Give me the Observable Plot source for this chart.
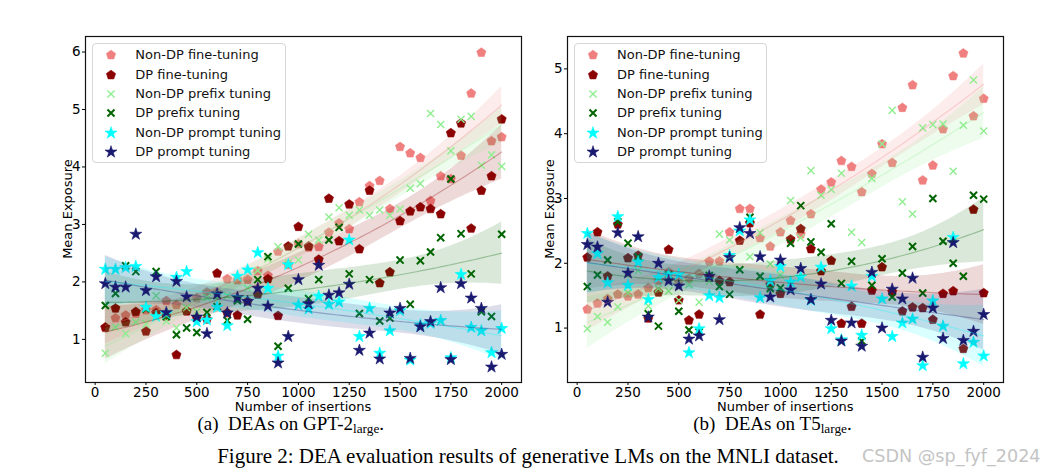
<!DOCTYPE html>
<html><head><meta charset="utf-8">
<script src="https://cdn.jsdelivr.net/npm/d3@7"></script>
<script src="https://cdn.jsdelivr.net/npm/@observablehq/plot@0.6"></script>
<style>
body{margin:0;background:#fff;}
#fig{position:relative;width:1045px;height:475px;overflow:hidden;font-family:"DejaVu Sans",sans-serif;color:#000;}
.panel{position:absolute;top:0;}
.lbl{position:absolute;white-space:nowrap;font-size:13px;line-height:1;transform:translate(-50%,-50%);}
.lbl.rot{transform:translate(-50%,-50%) rotate(-90deg);}
.legend{position:absolute;box-sizing:border-box;width:193.4px;height:120px;border:1px solid #d6d6d6;border-radius:4px;background:rgba(255,255,255,0.85);}
.row{position:absolute;left:0;height:0;width:100%;}
.row svg{position:absolute;left:7.7px;top:-10px;}
.row span{position:absolute;left:42px;top:-8px;font-size:13px;line-height:16px;white-space:nowrap;color:#111;}
.cap{position:absolute;white-space:nowrap;font-family:"Liberation Serif","Times New Roman",serif;font-size:19px;line-height:1;transform:translate(-50%,-50%);color:#000;}
.cap sub{font-size:13.3px;vertical-align:-3px;line-height:0;}
.cap.main{font-size:21px;}
.wm{position:absolute;white-space:nowrap;font-family:"DejaVu Sans",sans-serif;font-size:17.6px;color:#c4c4c4;transform:translate(0,-50%);}
</style></head>
<body><div id="fig"></div>
<script>
// ---------------- data ----------------
const insertions = [50,100,150,200,250,300,350,400,450,500,550,600,650,700,750,800,850,900,950,1000,
  1050,1100,1150,1200,1250,1300,1350,1400,1450,1500,1550,1600,1650,1700,1750,1800,1850,1900,1950,2000];

const seriesNames = ["Non-DP fine-tuning","DP fine-tuning","Non-DP prefix tuning","DP prefix tuning","Non-DP prompt tuning","DP prompt tuning"];
const seriesColors = ["#f08080","#8b0000","#90ee90","#006400","#00ffff","#191970"];
const seriesSymbols = ["pentagon","pentagon","times","times","star","star"];

const xTicks = [0,250,500,750,1000,1250,1500,1750,2000];
const yTicksGPT = [1,2,3,4,5,6];
const yTicksT5 = [1,2,3,4,5];

// GPT-2 large
const gptNonDPFine = [1.20,1.37,1.42,1.45,1.51,1.51,1.67,1.60,1.50,1.72,1.82,1.82,2.05,2.03,2.04,2.19,2.11,2.53,2.30,2.66,
  2.60,2.61,2.86,3.02,2.92,3.39,3.67,3.76,3.27,4.35,4.24,4.16,3.41,3.84,3.79,4.20,5.28,5.99,4.45,4.52];
const gptDPFine = [1.21,1.54,1.30,1.48,1.14,1.46,1.40,0.73,1.49,1.38,1.35,2.15,1.46,1.42,1.66,1.78,2.05,1.41,2.62,2.96,
  2.62,2.39,3.45,2.71,3.35,2.57,3.59,1.98,2.17,3.06,3.23,3.30,3.27,3.18,4.59,4.76,2.93,3.59,3.84,4.83];
const gptNonDPPrefix = [0.76,1.21,1.10,1.30,1.27,1.76,1.32,1.20,1.55,1.48,1.73,1.71,1.76,1.69,1.89,2.20,2.40,2.61,2.33,2.38,
  2.83,2.73,3.13,3.29,3.16,3.25,3.16,3.25,3.16,3.27,3.63,3.71,4.93,4.74,4.28,4.83,4.88,4.03,4.21,4.01];
const gptDPPrefix = [1.59,1.80,2.28,2.18,1.53,2.18,1.40,1.08,1.20,1.12,1.47,1.57,1.33,1.67,1.35,2.04,2.44,0.88,1.89,2.66,
  1.71,2.04,2.73,2.95,2.14,1.45,2.04,1.32,1.37,2.38,1.61,2.37,2.52,2.77,3.79,2.84,2.14,1.48,1.40,2.83];
const gptNonDPPrompt = [2.22,2.22,2.25,2.27,1.56,1.40,1.45,2.08,2.18,1.31,1.34,1.56,1.24,2.10,2.21,2.51,1.89,0.71,2.30,1.60,
  1.53,1.75,1.61,1.65,2.73,1.05,1.54,0.76,1.15,1.50,0.64,1.25,1.28,1.33,0.68,2.13,1.21,1.15,0.77,1.19];
const gptDPPrompt = [1.97,1.91,1.91,2.83,1.85,2.09,1.47,2.01,1.74,1.39,1.10,1.79,1.46,1.73,1.66,1.89,1.58,0.59,1.05,2.04,
  1.62,2.29,1.77,1.81,1.96,0.81,1.11,0.66,1.46,1.54,0.67,1.22,1.31,1.90,0.65,1.97,1.72,1.54,0.52,0.74];

// T5 large
const t5NonDPFine = [1.29,1.38,1.45,1.52,1.49,1.52,1.62,1.73,1.86,1.72,1.76,1.84,2.03,2.03,2.48,2.84,2.84,2.39,2.26,2.48,
  2.66,2.45,2.76,3.14,3.25,3.58,3.49,3.10,3.38,3.84,3.55,4.40,4.75,3.28,3.51,4.07,4.89,5.24,4.27,4.54];
const t5DPFine = [2.09,2.48,1.80,2.60,2.08,2.12,1.15,1.55,2.21,1.43,1.12,1.21,1.78,1.73,1.71,2.35,2.62,1.21,1.67,1.53,
  2.37,2.53,2.22,1.88,2.04,1.07,1.33,1.07,1.58,1.94,1.56,1.26,1.32,1.31,1.13,1.53,1.57,0.68,2.83,1.54];
const t5NonDPPrefix = [0.99,1.18,1.09,1.33,1.54,1.89,1.34,1.61,1.57,1.43,1.67,1.40,1.72,2.45,2.36,2.52,2.10,2.47,1.99,1.82,
  2.97,2.39,3.43,3.05,3.14,3.39,2.48,2.32,3.31,3.84,4.36,2.95,2.76,4.09,4.14,4.15,3.42,4.13,4.83,4.04];
const t5DPPrefix = [1.64,1.82,2.05,2.64,2.31,2.10,1.22,1.03,1.82,1.26,0.97,0.94,1.81,1.64,1.52,1.90,2.71,1.80,1.61,1.62,
  2.31,2.89,2.33,2.17,2.61,1.69,2.03,0.80,1.66,2.07,1.48,1.85,2.26,1.54,3.00,2.34,2.00,1.80,3.05,2.99];
const t5NonDPPrompt = [2.46,2.15,1.70,2.72,1.66,2.02,1.44,1.78,1.82,1.83,0.62,0.99,1.50,1.47,2.12,2.50,2.67,1.47,1.73,1.95,
  1.71,1.79,1.43,1.94,0.99,0.82,1.65,0.89,1.80,1.45,0.87,1.08,1.14,0.42,1.42,1.03,2.40,0.45,0.78,0.57];
const t5DPPrompt = [2.29,2.25,1.40,2.47,1.85,2.41,1.17,2.00,1.73,1.65,0.83,0.88,1.80,1.13,2.09,2.55,2.46,2.10,1.48,2.05,
  1.59,1.92,1.44,1.68,1.12,0.80,1.08,0.72,1.86,1.00,1.60,1.45,1.77,0.55,1.31,0.84,2.32,0.81,0.95,1.21];

// ---------------- helpers ----------------
const pentagon = {draw(ctx, size){
  const R = Math.sqrt(size / 2.3776);
  for (let k = 0; k < 5; k++) {
    const a = -Math.PI/2 + k*2*Math.PI/5;
    const px = R*Math.cos(a), py = R*Math.sin(a);
    if (k) ctx.lineTo(px, py); else ctx.moveTo(px, py);
  }
  ctx.closePath();
}};
function symbolOf(name){ return name === "pentagon" ? pentagon : name === "star" ? d3.symbolStar : d3.symbolTimes; }
const radiusOf = {pentagon: 4.2, star: 3.8, times: 3.3};
function strokeW(i){ return seriesSymbols[i] === "times" ? (i === 3 ? 2 : 1.4) : 0.6; }

function inv3(m){
  const [a,b,c] = m[0], [d,e,f] = m[1], [g,h,k] = m[2];
  const A = e*k - f*h, B = -(d*k - f*g), C = d*h - e*g;
  const det = a*A + b*B + c*C;
  return [
    [A/det, -(b*k - c*h)/det, (b*f - c*e)/det],
    [B/det, (a*k - c*g)/det, -(a*f - c*d)/det],
    [C/det, -(a*h - b*g)/det, (a*e - b*d)/det]
  ];
}
// quadratic least-squares fit with 95% confidence band (order-2 regression)
function quadFit(xs, ys){
  const n = xs.length;
  const A = [[0,0,0],[0,0,0],[0,0,0]], b = [0,0,0];
  const row = x => { const u = x/1000; return [1, u, u*u]; };
  for (let k = 0; k < n; k++) {
    const r = row(xs[k]);
    for (let i = 0; i < 3; i++) { b[i] += r[i]*ys[k]; for (let j = 0; j < 3; j++) A[i][j] += r[i]*r[j]; }
  }
  const inv = inv3(A);
  const beta = [0,1,2].map(i => inv[i][0]*b[0] + inv[i][1]*b[1] + inv[i][2]*b[2]);
  const pred = x => { const r = row(x); return beta[0]*r[0] + beta[1]*r[1] + beta[2]*r[2]; };
  let ssr = 0; for (let k = 0; k < n; k++) ssr += (ys[k] - pred(xs[k]))**2;
  const s2 = ssr/(n - 3), t = 2.026;
  const lo = d3.min(xs), hi = d3.max(xs);
  return d3.range(100).map(i => {
    const x = lo + (hi - lo)*i/99, r = row(x), yhat = pred(x);
    let q = 0; for (let a = 0; a < 3; a++) for (let c = 0; c < 3; c++) q += r[a]*inv[a][c]*r[c];
    const h = t*Math.sqrt(s2*q);
    return {x, yhat, lo: yhat - h, hi: yhat + h};
  });
}

function makePanel(seriesValues, yDomain, yTicks){
  const marks = [];
  const fits = [];
  seriesValues.forEach((vals, i) => {
    const pts = insertions.map((x, j) => ({x, y: vals[j]}));
    const stroked = seriesSymbols[i] === "times";
    marks.push(Plot.dot(pts, {x: "x", y: "y", symbol: symbolOf(seriesSymbols[i]), r: radiusOf[seriesSymbols[i]],
      fill: stroked ? "none" : seriesColors[i], stroke: seriesColors[i], strokeWidth: strokeW(i)}));
    const fit = quadFit(insertions, vals);
    fits.push(fit);
    marks.push(Plot.areaY(fit, {x: "x", y1: "lo", y2: "hi", fill: seriesColors[i], fillOpacity: 0.15}));
  });
  fits.forEach((fit, i) => marks.push(Plot.line(fit, {x: "x", y: "yhat", stroke: seriesColors[i], strokeOpacity: 0.3, strokeWidth: 1.2})));
  return Plot.plot({
    width: 530, height: 415, marginLeft: 85, marginRight: 9, marginTop: 36, marginBottom: 33,
    x: {domain: [-47.5, 2097.5]},
    y: {domain: yDomain},
    style: {background: "none", fontFamily: "DejaVu Sans, sans-serif", fontSize: "13.5px", color: "#000", overflow: "visible"},
    marks: [
      ...marks,
      Plot.frame({stroke: "#111", strokeWidth: 1.2}),
      Plot.axisX({ticks: xTicks, tickSize: 3, tickPadding: 1.5, label: null, tickFormat: d => String(d)}),
      Plot.axisY({ticks: yTicks, tickSize: 3, tickPadding: 2, label: null, tickFormat: d => String(d)})
    ]
  });
}

const fig = d3.select("#fig");
function place(svg, left){
  const wrap = fig.append("div").attr("class", "panel").style("left", left + "px");
  wrap.node().appendChild(svg);
}
place(makePanel([gptNonDPFine, gptDPFine, gptNonDPPrefix, gptDPPrefix, gptNonDPPrompt, gptDPPrompt], [0.25, 6.27], yTicksGPT), 0);
place(makePanel([t5NonDPFine, t5DPFine, t5NonDPPrefix, t5DPPrefix, t5NonDPPrompt, t5DPPrompt], [0.16, 5.50], yTicksT5), 482.3);

function label(text, x, y, rot){
  fig.append("div").attr("class", "lbl" + (rot ? " rot" : "")).style("left", x + "px").style("top", y + "px").text(text);
}
label("Mean Exposure", 67, 209, true);
label("Mean Exposure", 548.5, 209, true);
label("Number of insertions", 303, 406, false);
label("Number of insertions", 785.3, 406, false);

function legend(left, top){
  const box = fig.append("div").attr("class", "legend").style("left", left + "px").style("top", top + "px");
  seriesNames.forEach((name, i) => {
    const row = box.append("div").attr("class", "row").style("top", (11.6 + 19.35*i) + "px");
    const svg = row.append("svg").attr("width", 20).attr("height", 20);
    const r = radiusOf[seriesSymbols[i]];
    const stroked = seriesSymbols[i] === "times";
    svg.append("path").attr("transform", "translate(10,10)")
      .attr("d", d3.symbol(symbolOf(seriesSymbols[i]), r*r*Math.PI)())
      .attr("fill", stroked ? "none" : seriesColors[i]).attr("stroke", seriesColors[i]).attr("stroke-width", strokeW(i));
    row.append("span").text(name);
  });
}
legend(92.3, 42.7);
legend(574, 42.7);

function caption(html, x, y, cls){
  fig.append("div").attr("class", "cap" + (cls ? " " + cls : "")).style("left", x + "px").style("top", y + "px").html(html);
}
caption("(a)&nbsp; DEAs on GPT-2<sub>large</sub>.", 290.8, 423);
caption("(b)&nbsp; DEAs on T5<sub>large</sub>.", 772.5, 423);
caption("Figure 2: DEA evaluation results of generative LMs on the MNLI dataset.", 528, 456, "main");
fig.append("div").attr("class", "wm").style("left", "862px").style("top", "456px").text("CSDN @sp_fyf_2024");
</script>
</body></html>
